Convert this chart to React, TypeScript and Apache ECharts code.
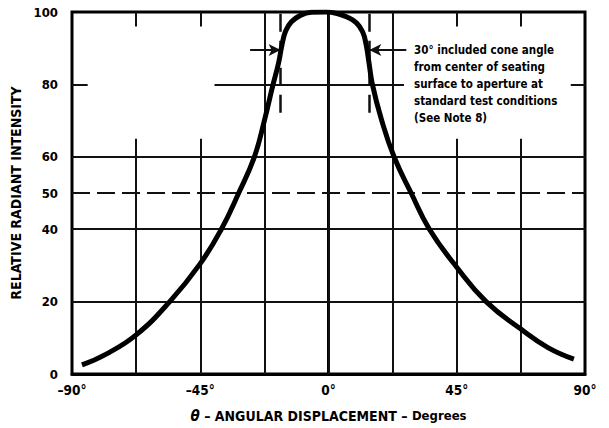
import { useEffect, useRef } from "react";
import * as echarts from "echarts";

// Curve: relative radiant intensity vs angular displacement (degrees)
const angles = [-86.5, -78, -67.5, -55.7, -45, -37.6, -31.5, -26, -22.5, -19.6, -17.5, -16.3, -15, -13, -10, -6, -1, 3, 6.5, 9.8, 12, 13.2, 14.2, 15.4, 18.5, 23, 29, 35.4, 45, 55.3, 67.5, 77, 86.1];
const intensity = [2.5, 5.5, 10.8, 20, 30.5, 40, 50, 60, 70, 79.5, 86, 91, 94.8, 97.3, 99, 99.9, 100, 99.6, 98.6, 97, 94.5, 91, 86, 80, 70.5, 60, 50, 40, 29.5, 20, 12.4, 7.3, 4.1];

// Axis ticks
const xLabelValues = [-90, -45, 0, 45, 90];
const yLabelValues = [0, 20, 40, 50, 60, 80, 100];

// Grid lines (in data units)
const solidHLevels = [20, 40, 60];
const dashedHLevel = 50;
const level80Segments = [[-90, -84.5], [-40, 26.5], [85, 90]];
const fullVLines = [-22.5, 0, 22.5];
const partialVLines = [-67.5, -45, 45, 67.5];
const partialVRanges = [[0, 65], [96, 100]];
const coneLines = [-16.8, 14.3];
const coneRange = [70, 99.5];
const arrowLevel = 89.5;
const arrowSegments = [[-27.5, -16.8], [27.3, 14.3]];

const noteLines = [
  "30° included cone angle",
  "from center of seating",
  "surface to aperture at",
  "standard test conditions",
  "(See Note 8)",
];

const FONT = "'DejaVu Sans Condensed', 'Liberation Sans Narrow', sans-serif";

export default function App() {
  const ref = useRef<HTMLDivElement>(null);
  useEffect(() => {
    if (!ref.current) return;
    const chart = echarts.init(ref.current, undefined, { renderer: "svg" });
    const gridStyle = { color: "#111", width: 2, type: "solid" as const };
    const seg = (a: number[], b: number[], style: any) => [
      { coord: a, lineStyle: style },
      { coord: b },
    ];
    const gridSegs: any[] = [];
    solidHLevels.forEach((y) => gridSegs.push(seg([-90, y], [90, y], gridStyle)));
    gridSegs.push(seg([-90, dashedHLevel], [90, dashedHLevel], { color: "#111", width: 2, type: [18, 7] }));
    level80Segments.forEach(([a, b]) => gridSegs.push(seg([a, 80], [b, 80], gridStyle)));
    fullVLines.forEach((x) => gridSegs.push(seg([x, 0], [x, 100], gridStyle)));
    partialVLines.forEach((x) =>
      partialVRanges.forEach(([a, b]) => gridSegs.push(seg([x, a], [x, b], gridStyle)))
    );
    coneLines.forEach((x) =>
      gridSegs.push(seg([x, coneRange[1]], [x, coneRange[0]], { color: "#111", width: 2.5, type: [18, 9] }))
    );
    const arrowSegs = arrowSegments.map(([a, b]) => seg([a, arrowLevel], [b, arrowLevel], gridStyle));

    chart.setOption({
      animation: false,
      backgroundColor: "#fff",
      grid: {
        left: 72,
        right: 24,
        top: 12,
        bottom: 54,
        show: true,
        borderColor: "#000",
        borderWidth: 3,
        containLabel: false,
        outerBoundsMode: "none",
      },
      xAxis: {
        type: "value",
        min: -90,
        max: 90,
        interval: 22.5,
        axisLine: { show: true, lineStyle: { color: "#000", width: 3 } },
        axisTick: { show: false },
        splitLine: { show: false },
        axisLabel: {
          color: "#000",
          fontWeight: "bold",
          fontSize: 13.5,
          fontFamily: FONT,
          margin: 9,
          formatter: (v: number) =>
            xLabelValues.includes(v) ? (v < 0 ? "–" + Math.abs(v) : String(v)) + "°" : "",
        },
        name: "{t|θ} – ANGULAR DISPLACEMENT – {d|Degrees}",
        nameLocation: "middle",
        nameGap: 34,
        nameTextStyle: {
          color: "#000",
          fontWeight: "bold",
          fontSize: 14,
          fontFamily: FONT,
          rich: {
            t: { fontStyle: "italic", fontWeight: "bold", fontSize: 15, fontFamily: FONT, color: "#000" },
            d: { fontWeight: "bold", fontSize: 13, fontFamily: FONT, color: "#000" },
          },
        },
      },
      yAxis: {
        type: "value",
        min: 0,
        max: 100,
        interval: 10,
        axisLine: { show: true, lineStyle: { color: "#000", width: 3 } },
        axisTick: { show: false },
        splitLine: { show: false },
        axisLabel: {
          color: "#000",
          fontWeight: "bold",
          fontSize: 13,
          fontFamily: FONT,
          margin: 14,
          formatter: (v: number) => (yLabelValues.includes(v) ? String(v) : ""),
        },
        name: "RELATIVE RADIANT INTENSITY",
        nameLocation: "middle",
        nameRotate: 90,
        nameGap: 46,
        nameTextStyle: { color: "#000", fontWeight: "bold", fontSize: 14, fontFamily: FONT },
      },
      graphic: [
        {
          type: "text",
          left: 414,
          top: 41,
          style: {
            text: noteLines.join("\n"),
            font: "bold 11.5px " + FONT,
            lineHeight: 17,
            fill: "#000",
          },
        },
      ],
      series: [
        {
          type: "line",
          data: [],
          z: 1,
          silent: true,
          markLine: {
            silent: true,
            symbol: "none",
            label: { show: false },
            animation: false,
            data: gridSegs,
          },
        },
        {
          type: "line",
          data: [],
          z: 2,
          silent: true,
          markLine: {
            silent: true,
            symbol: ["none", "arrow"],
            symbolSize: [9, 12],
            label: { show: false },
            animation: false,
            itemStyle: { color: "#111" },
            data: arrowSegs,
          },
        },
        {
          type: "line",
          z: 5,
          smooth: 0.45,
          symbol: "none",
          lineStyle: { color: "#000", width: 5 },
          data: angles.map((a, i) => [a, intensity[i]]),
        },
      ],
    });
    return () => chart.dispose();
  }, []);
  return (
    <div
      ref={ref}
      style={{ position: "fixed", left: 0, top: 0, width: 609, height: 428, background: "#fff" }}
    />
  );
}
